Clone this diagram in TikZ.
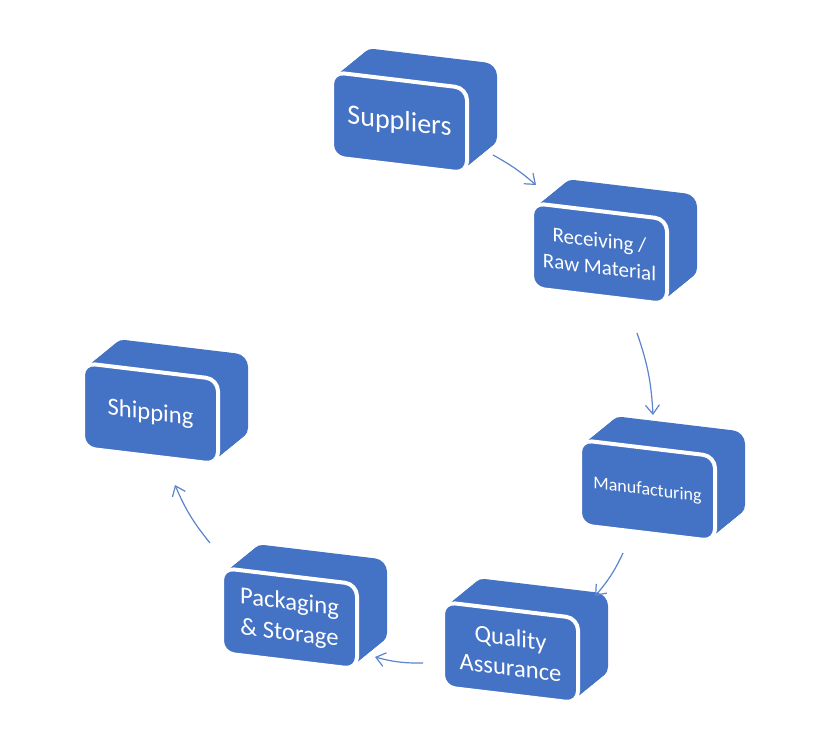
\documentclass[tikz,border=0pt]{standalone}
\usepackage{fontspec}
\setmainfont{Carlito}
\usetikzlibrary{arrows.meta}
\definecolor{boxblue}{HTML}{4472C4}
\definecolor{arrowblue}{HTML}{5B84CC}

% #1 name, #2 #3 top left of the front face, #4 font, #5 text
\newcommand{\cratebox}[5]{%
  \begin{scope}[shift={(#2,#3)},yslant=-0.12]
    \foreach \k in {0,...,20}
      \fill[boxblue,rounded corners=6pt] ({1.5*\k},{-1.4*\k}) rectangle +(135,85);
    \node[face,font=#4] (#1) at (67.5,42.5) {#5};
  \end{scope}}

\begin{document}
\begin{tikzpicture}[x=0.5pt,y=-0.5pt,
      face/.style={rectangle,rounded corners=6pt,fill=boxblue,draw=white,
        line width=2pt,text=white,align=center,inner sep=0pt,
        minimum width=67.5pt,minimum height=42.5pt,transform shape},
      flow/.style={draw=arrowblue,line width=0.6pt,
        -{Straight Barb[length=4.5pt,width=7pt]}}]
    \useasboundingbox (0,0) rectangle (835,732);

    \cratebox{sup}{332}{72}{\fontsize{14}{17}\selectfont}{Suppliers}
    \cratebox{rec}{532}{203}{\fontsize{10.5}{13.5}\selectfont}{Receiving /\\Raw Material}
    \cratebox{man}{580}{440}{\fontsize{9}{11}\selectfont}{Manufacturing}
    \cratebox{qua}{443}{602}{\fontsize{12.3}{15}\selectfont}{Quality\\Assurance}
    \cratebox{pac}{222}{568}{\fontsize{12.3}{15.5}\selectfont}{Packaging\\\& Storage}
    \cratebox{shi}{83}{363}{\fontsize{12.3}{15}\selectfont}{Shipping}

    \coordinate (sup out) at (493,155);
    \coordinate (rec in) at (536,185);
    \coordinate (rec out) at (637,333);
    \coordinate (man in) at (653,415);
    \coordinate (man out) at (623,553);
    \coordinate (qua in) at (595,596);
    \coordinate (qua out) at (423,663);
    \coordinate (pac in) at (375,657);
    \coordinate (pac out) at (210,543);
    \coordinate (shi in) at (175,485);

    \draw[flow] (sup out) to[bend left=6] (rec in);
    \draw[flow] (rec out) to[bend left=8] (man in);
    \draw[flow] (man out) to[bend left=8] (qua in);
    \draw[flow] (qua out) to[bend left=8] (pac in);
    \draw[flow] (pac out) to[bend left=8] (shi in);
  \end{tikzpicture}
\end{document}
